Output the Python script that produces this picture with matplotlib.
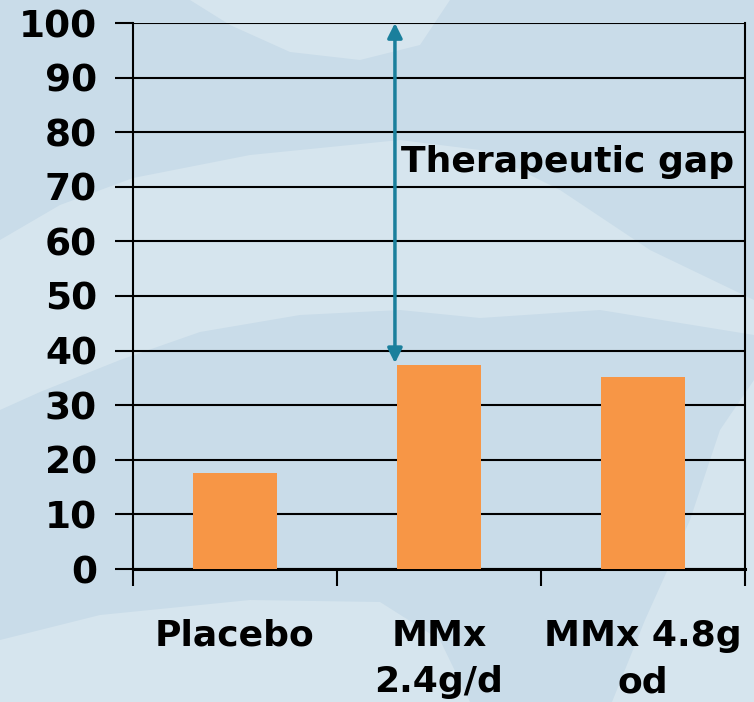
import numpy as np
import matplotlib.pyplot as plt
from matplotlib.patches import Polygon

categories = ["Placebo", "MMx\n2.4g/d", "MMx 4.8g\nod"]
values = [17.6, 37.4, 35.1]
yticks = [0, 10, 20, 30, 40, 50, 60, 70, 80, 90, 100]
gap_label = "Therapeutic gap"
gap_low, gap_high = 37.7, 100

plt.rcParams['font.family'] = ['DejaVu Sans']
plt.rcParams['font.weight'] = 'bold'

W, H = 754, 702
fig = plt.figure(figsize=(W / 100, H / 100), dpi=100)
fig.patch.set_facecolor("#c9dce9")

# lighter swirls in the backdrop (pixel outlines, top-left origin)
light = "#d6e5ee"
swirls = [
    [(190, 0), (230, 25), (290, 52), (360, 60), (420, 45), (450, 0)],
    [(0, 240), (60, 205), (133, 178), (250, 155), (400, 140), (480, 150),
     (560, 190), (650, 250), (754, 300), (754, 335), (600, 310), (480, 318),
     (400, 310), (300, 315), (200, 332), (120, 360), (40, 392), (0, 410)],
    [(0, 640), (100, 615), (250, 600), (380, 602), (440, 640), (470, 702), (0, 702)],
    [(754, 380), (720, 430), (690, 520), (645, 620), (612, 702), (754, 702)],
]
for pts in swirls:
    pts = [(px / W, 1 - py / H) for px, py in pts]
    fig.add_artist(Polygon(pts, closed=True, transform=fig.transFigure,
                           facecolor=light, edgecolor="none", zorder=0))

ax = fig.add_axes([133 / W, 1 - 569 / H, (745 - 133) / W, (569 - 23) / H])
ax.set_facecolor("none")

x = np.arange(len(categories)) + 0.5
ax.bar(x, values, width=0.41, color="#f79646", zorder=3)

ax.set_xlim(0, 3)
ax.set_ylim(0, 100)
ax.set_yticks(yticks)
ax.set_yticklabels([str(t) for t in yticks], fontsize=27, fontweight='bold')
ax.set_xticks([0, 1, 2, 3])
ax.set_xticklabels([])
ax.set_xticks(x, minor=True)
ax.set_xticklabels(categories, minor=True, fontsize=26, fontweight='bold',
                   linespacing=1.45)
ax.tick_params(axis='x', which='minor', length=0, pad=36)
ax.tick_params(axis='x', which='major', length=12, width=1.5, direction='out')
ax.tick_params(axis='y', length=13, width=1.5, pad=13)

ax.grid(axis='y', color='black', linewidth=1.5, zorder=1)
ax.set_axisbelow(True)
for side in ['left', 'right']:
    ax.spines[side].set_linewidth(1.5)
ax.spines['bottom'].set_linewidth(2.2)
ax.spines['top'].set_visible(False)

ax.annotate("", xy=(1.284, gap_high), xytext=(1.284, gap_low),
            arrowprops=dict(arrowstyle='<|-|>', color="#1a7f9c", lw=2.5,
                            mutation_scale=22, shrinkA=0, shrinkB=0),
            zorder=4)
ax.text(2.13, 74.5, gap_label, fontsize=26, fontweight='bold',
        ha='center', va='center', zorder=5)

fig.savefig("out.png", dpi=100, facecolor=fig.get_facecolor())
